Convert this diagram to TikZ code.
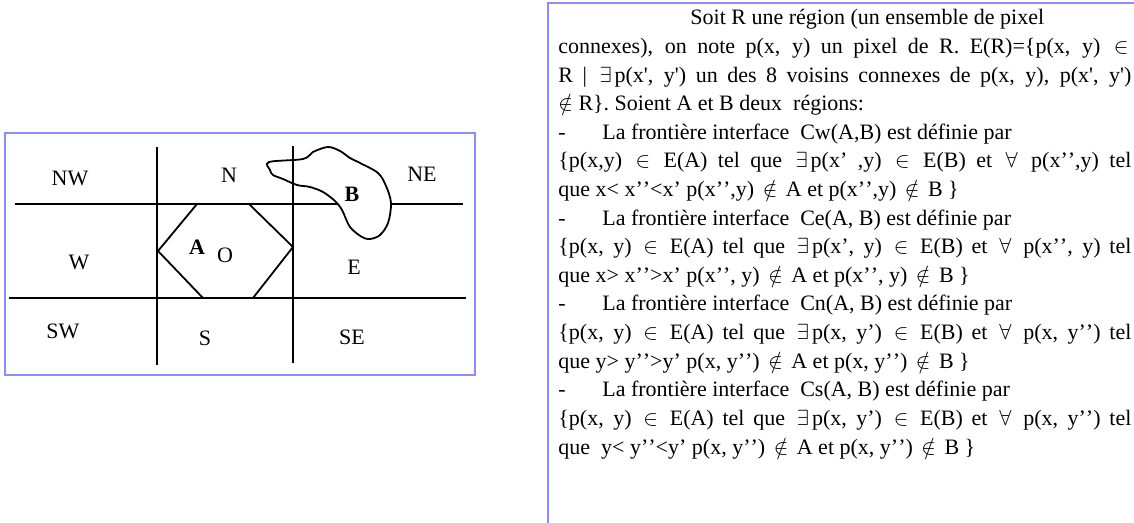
\documentclass[tikz,border=0pt]{standalone}
\usepackage{fontspec}
\setmainfont{Liberation Serif}
\usepackage{tikz}
\usetikzlibrary{positioning}
\definecolor{framelilac}{HTML}{8C8CFF}
\newcommand{\dq}{’\kern0pt’}
\newcommand{\sq}{\textquotesingle}
\newcommand{\tiret}{\makebox[22pt][l]{-}}
\newcommand{\pleine}[1]{\makebox[286.5pt][s]{#1}}
\newcommand{\sym}[1]{\hspace{1.5pt}$#1$\hspace{1.5pt}}

\begin{document}
\begin{tikzpicture}[
    x=0.5pt, y=-0.5pt,
    boxframe/.style={draw=framelilac, line width=0.8pt},
    gridline/.style={line width=1.4pt},
    regionline/.style={line width=0.9pt},
    zone/.style={inner sep=0pt, font=\fontsize{11}{13}\selectfont},
    regionname/.style={zone, font=\fontsize{11}{13}\selectfont\bfseries},
    para/.style={anchor=base west, inner sep=0pt, font=\fontsize{11}{13}\selectfont},
]
\useasboundingbox (0,0) rectangle (1134,523);

% Left frame
\draw[boxframe] (5,133) rectangle (475,375);

% Horizontal grid lines
\draw[gridline] (15,204) -- (463,204);
\draw[gridline] (9,298) -- (466,298);

% Region A
\draw[regionline] (197,204) -- (158,251) -- (203,298);
\draw[regionline] (249,204) -- (293,247) -- (253,298);

% Region B
\draw[regionline, fill=white] plot[smooth cycle, tension=0.55] coordinates {
  (269,162) (303,159) (313,152) (328,147) (340,151) (350,158) (360,163)
  (378,173) (386,186) (391,203) (388,223) (380,235) (370,239) (362,237)
  (350,227) (342,210) (335,201) (323,192) (310,187) (297,185) (283,179)
  (273,175) (270,170)};

% Vertical grid lines
\draw[gridline] (157,147) -- (157,365);
\draw[gridline] (293,146) -- (293,363);

% Zone labels
\node[zone] (nw) at (70,178) {NW};
\node[zone] (n) at (229,175) {N};
\node[zone] (ne) at (422,174) {NE};
\node[zone] (w) at (79,262) {W};
\node[zone] (o) at (225,255) {O};
\node[zone] (e) at (354,267) {E};
\node[zone] (sw) at (63,331) {SW};
\node[zone] (s) at (205,338) {S};
\node[zone] (se) at (352,337) {SE};
\node[regionname] (rega) at (197,247) {A};
\node[regionname] (regb) at (352,194) {B};

% Right frame (cut at the page edge)
\draw[boxframe, line width=1pt] (548,523) -- (548,3) -- (1134,3);

% Definitions
\node[para] (t1) at (690,25) {Soit R une région (un ensemble de pixel};
\node[para] (t2) at (558,53.6) {\pleine{connexes), on note p(x, y) un pixel de R. E(R)=\{p(x, y) \sym{\in}}};
\node[para] (t3) at (558,82.2) {\pleine{R | \sym{\exists}p(x\sq, y\sq) un des 8 voisins connexes de p(x, y), p(x\sq, y\sq)}};
\node[para] (t4) at (558,110.8) {$\notin$ R\}. Soient A et B deux\ \ régions:};
\node[para] (t5) at (558,139.4) {\tiret La frontière interface\ \ Cw(A,B) est définie par};
\node[para] (t6) at (558,168) {\pleine{\{p(x,y) \sym{\in}\ E(A) tel que \sym{\exists}p(x’ ,y) \sym{\in} E(B) et \sym{\forall} p(x\dq,y) tel}};
\node[para] (t7) at (558,196.6) {que x< x\dq<x’ p(x\dq,y) \sym{\notin} A et p(x\dq,y) \sym{\notin} B \}};
\node[para] (t8) at (558,225.2) {\tiret La frontière interface\ \ Ce(A, B) est définie par};
\node[para] (t9) at (558,253.8) {\pleine{\{p(x, y) \sym{\in} E(A) tel que \sym{\exists}p(x’, y) \sym{\in} E(B) et \sym{\forall} p(x\dq, y) tel}};
\node[para] (t10) at (558,282.4) {que x> x\dq>x’ p(x\dq, y) \sym{\notin} A et p(x\dq, y) \sym{\notin} B \}};
\node[para] (t11) at (558,311) {\tiret La frontière interface\ \ Cn(A, B) est définie par};
\node[para] (t12) at (558,339.6) {\pleine{\{p(x, y) \sym{\in} E(A) tel que \sym{\exists}p(x, y’) \sym{\in} E(B) et \sym{\forall} p(x, y\dq) tel}};
\node[para] (t13) at (558,368.2) {que y> y\dq>y’ p(x, y\dq) \sym{\notin} A et p(x, y\dq) \sym{\notin} B \}};
\node[para] (t14) at (558,396.8) {\tiret La frontière interface\ \ Cs(A, B) est définie par};
\node[para] (t15) at (558,425.4) {\pleine{\{p(x, y) \sym{\in} E(A) tel que \sym{\exists}p(x, y’) \sym{\in} E(B) et \sym{\forall} p(x, y\dq) tel}};
\node[para] (t16) at (558,454) {que\ \ y< y\dq<y’ p(x, y\dq) \sym{\notin} A et p(x, y\dq) \sym{\notin} B \}};

\end{tikzpicture}
\end{document}
